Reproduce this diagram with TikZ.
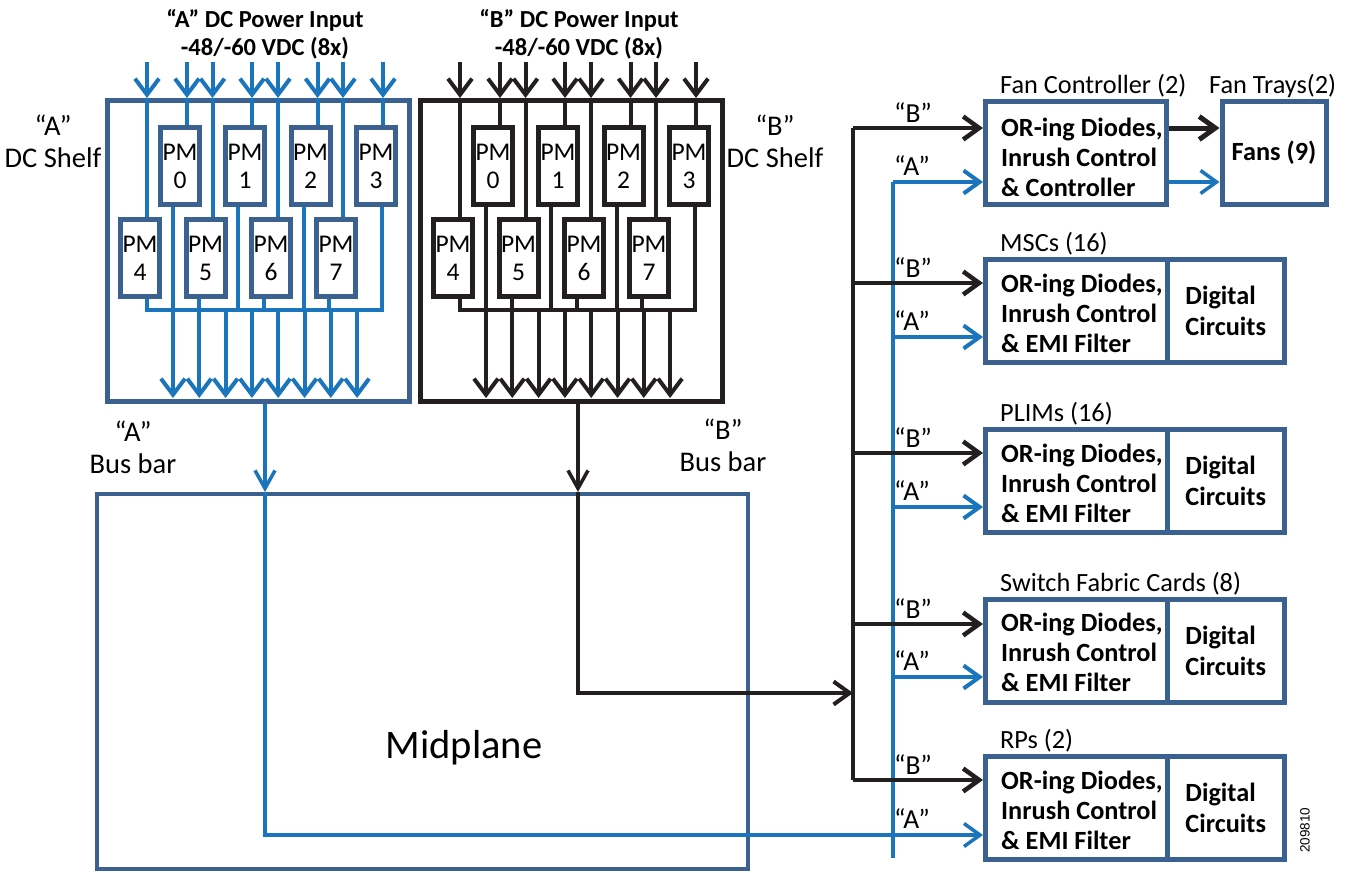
\documentclass[tikz,border=0pt]{standalone}
\usepackage{fontspec}
\setmainfont{Carlito}
\newfontfamily\arialfont{Liberation Sans}
\usetikzlibrary{arrows.meta,calc}
\definecolor{boxblue}{HTML}{3A6190}
\definecolor{lineblue}{HTML}{1A75BC}
\definecolor{ink}{HTML}{231F20}
\newcommand\fs[2]{\fontsize{#1}{#2}\selectfont}
\begin{document}
\begin{tikzpicture}[x=1pt,y=-1pt,
  pmbox/.style={draw=#1, line width=5pt, minimum width=39pt, minimum height=77pt, inner sep=0pt, fill=white, align=center, font=\fs{25.5}{28}},
  shelfbox/.style={draw=#1, line width=5pt, minimum width=302pt, minimum height=301pt, inner sep=0pt},
  flow/.style={draw=#1, line width=4pt},
  barbV/.style={-{Straight Barb[length=16pt,width=24pt]}},
  barbR/.style={-{Straight Barb[length=16pt,width=23pt]}},
  barbM/.style={-{Straight Barb[length=18pt,width=20pt]}},
  rbox/.style={draw=boxblue, line width=5pt, minimum height=103pt, inner sep=0pt},
  boldtxt/.style={font=\bfseries\fs{26.3}{30}, align=left, inner sep=0pt},
  lab/.style={font=\fs{26.3}{30}, inner sep=0pt},
  qlab/.style={font=\fs{27.5}{30}, inner sep=0pt},
  biglab/.style={font=\fs{28.5}{32}, align=center, inner sep=0pt},
  title/.style={font=\bfseries\fs{24.5}{28}, align=center, inner sep=0pt}
]
\useasboundingbox (0,0) rectangle (1350,873);
\fill[white] (0,0) rectangle (1350,873);

% ---------- DC shelves ----------
\foreach \S/\dx/\bc/\lc in {A/0/boxblue/lineblue, B/313/ink/ink} {
  \node[shelfbox=\bc] (shelf\S) at (258.5+\dx,251) {};
  \foreach \k/\px/\py/\o in {0/180/166/-7, 1/245/166/-7, 2/310.5/166/-7, 3/376/166/6,
                             4/140/258/7, 5/205.5/258/-7, 6/271/258/-7, 7/336/258/-7} {
    \node[pmbox=\bc] (pm\S\k) at (\px+\dx,\py) {PM\\\k};
    \coordinate (in\S\k) at (\px+\dx+7,62);
    \draw[flow=\lc, barbV] (in\S\k) -- (in\S\k |- shelf\S.north);
    \draw[flow=\lc] (in\S\k |- shelf\S.north) -- (in\S\k |- pm\S\k.north);
    \coordinate (out\S\k) at (\px+\dx+\o,310);
    \draw[flow=\lc] (out\S\k |- pm\S\k.south) -- (out\S\k);
  }
  \coordinate (busL\S) at (145+\dx,310);
  \coordinate (busR\S) at (384+\dx,310);
  \draw[flow=\lc] (busL\S) -- (busR\S);
  \foreach \j in {0,...,7} {
    \coordinate (dn\S\j) at (173+26.3*\j+\dx,310);
    \coordinate (dt\S\j) at (173+26.3*\j+\dx,398);
    \draw[flow=\lc, barbV] (dn\S\j) -- (dt\S\j);
  }
}

% ---------- titles and labels ----------
\node[title] (titA) at (265,34) {“A” DC Power Input\\-48/-60 VDC (8x)};
\node[title] (titB) at (579,34) {“B” DC Power Input\\-48/-60 VDC (8x)};
\node[biglab] (lshA) at (53,141) {“A”\\DC Shelf};
\node[biglab] (lshB) at (775,141) {“B”\\DC Shelf};
\node[biglab] (lbbA) at (133,447) {“A”\\Bus bar};
\node[biglab] (lbbB) at (723,445) {“B”\\Bus bar};

% ---------- Midplane ----------
\node[draw=boxblue, line width=4pt, minimum width=651pt, minimum height=375pt, inner sep=0pt] (mid) at (422.5,681.5) {};
\node[font=\fs{40.5}{42}, inner sep=0pt] (midtxt) at (464,748) {Midplane};

% ---------- right-side boxes ----------
\node[rbox, minimum width=181pt] (fc) at (1076,153) {};
\node[rbox, minimum width=104pt, font=\bfseries\fs{26.3}{30}] (fans) at (1274,153) {Fans (9)};
\node[boldtxt, anchor=west] (fctxt) at (1001,157) {OR-ing Diodes,\\Inrush Control\\\& Controller};
\node[lab, anchor=west] (fclab) at (1000,86) {Fan Controller (2)};
\node[lab, anchor=west] (ftlab) at (1209,86) {Fan Trays(2)};

\foreach \n/\yc/\name in {msc/311/MSCs (16), plim/481/PLIMs (16), sfc/650.5/Switch Fabric Cards (8), rp/808/RPs (2)} {
  \node[rbox, minimum width=181.5pt] (\n L) at (1076.25,\yc) {};
  \node[rbox, minimum width=117.5pt, font=\bfseries\fs{26.3}{31}, align=left] (\n R) at (1225.75,\yc) {Digital\\Circuits};
  \node[boldtxt, anchor=west] (\n T) at (1001,\yc+2) {OR-ing Diodes,\\Inrush Control\\\& EMI Filter};
  \node[lab, anchor=west] (\n lab) at (1000,\yc-67) {\name};
}

% entry points
\coordinate (fcB) at ($(fc.west)+(0,-25)$);
\coordinate (fcA) at ($(fc.west)+(0,29)$);
\foreach \n in {msc,plim,rp} {
  \coordinate (\n B) at ($(\n L.west)+(0,-28)$);
  \coordinate (\n A) at ($(\n L.west)+(0,26)$);
}
\coordinate (sfcB) at ($(sfcL.west)+(0,-26.5)$);
\coordinate (sfcA) at ($(sfcL.west)+(0,26.5)$);
\coordinate (rpA) at ($(rpL.west)+(0,27)$);

% buses
\coordinate (bbus) at (853,128);
\coordinate (bbusEnd) at (853,780);
\coordinate (abus) at (893,182);
\coordinate (abusEnd) at (893,858);
\draw[flow=ink, line width=4.5pt] (bbus) -- (bbusEnd);
\draw[flow=lineblue] (abus) -- (abusEnd);

\foreach \n in {fc,msc,plim,sfc,rp} {
  \draw[flow=ink, line width=4.5pt, barbR] (\n B -| bbus) -- (\n B);
  \node[qlab] (\n lb) at ($(\n B)+(-70,-15)$) {“B”};
  \node[qlab] (\n la) at ($(\n A)+(-71,-16)$) {“A”};
}
\foreach \n in {fc,msc,plim,sfc} {
  \draw[flow=lineblue, barbR] (\n A -| abus) -- (\n A);
}

% fan controller to fans
\draw[flow=ink, line width=5pt, barbR] (fc.east |- fcB) -- (fans.west |- fcB);
\draw[flow=lineblue, line width=3.5pt, barbR] (fc.east |- fcA) -- (fans.west |- fcA);

% bus bars into midplane
\coordinate (bbAx) at (265,404);
\coordinate (bbBx) at (578,404);
\draw[flow=lineblue, line width=3.5pt, barbM] (bbAx |- shelfA.south) -- (bbAx |- mid.north);
\draw[flow=ink, line width=3.5pt, barbM] (bbBx |- shelfB.south) -- (bbBx |- mid.north);
\draw[flow=lineblue, line width=3.5pt, barbR] (bbAx |- mid.north) -- (bbAx |- rpA) -- (rpA);
\coordinate (bturn) at (578,693);
\draw[flow=ink, line width=4pt, barbR] (bbBx |- mid.north) -- (bturn) -- (bturn -| bbus);

% figure number
\node[font=\arialfont\fs{13.5}{14}, rotate=90, inner sep=0pt] (fignum) at (1305,830) {209810};
\end{tikzpicture}
\end{document}
